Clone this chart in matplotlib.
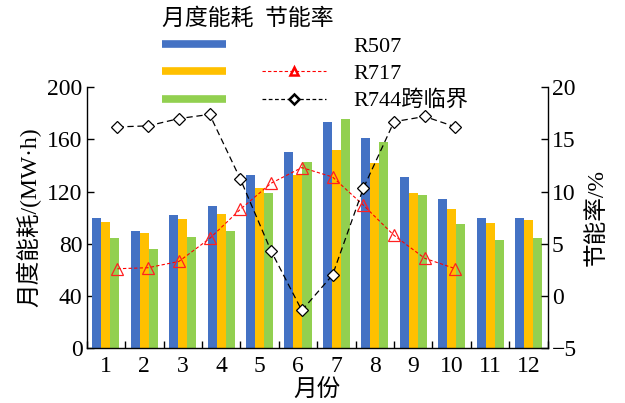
import matplotlib
matplotlib.use("Agg")
import matplotlib.pyplot as plt
from matplotlib.lines import Line2D
from matplotlib.legend_handler import HandlerTuple
import numpy as np

plt.rcParams['font.family'] = ['Liberation Serif', 'Noto Sans CJK SC', 'DejaVu Sans']
plt.rcParams['axes.unicode_minus'] = True

months = list(range(1, 13))
month_labels = [str(m) for m in months]
energy_r507 = [100, 90, 102, 109, 133, 150, 173, 161, 131, 114, 100, 100]
energy_r717 = [97, 88, 99, 103, 123, 133, 152, 142, 119, 107, 96, 98]
energy_r744 = [84, 76, 85, 90, 119, 143, 176, 158, 117, 95, 83, 84]
saving_r717 = [2.6, 2.7, 3.3, 5.5, 8.3, 10.8, 12.3, 11.4, 8.7, 5.8, 3.6, 2.6]
saving_r744 = [16.2, 16.3, 17.0, 17.4, 11.2, 4.3, -1.4, 2.0, 10.3, 16.7, 17.2, 16.2]
series_names = ['R507', 'R717', 'R744跨临界']

c_blue = '#4472C4'
c_yellow = '#FFC000'
c_green = '#92D050'

fig = plt.figure(figsize=(6.25, 4.03), dpi=100)
pos = [0.1387, 0.1365, 0.7376, 0.6469]
ax = fig.add_axes(pos)

x = np.array(months, dtype=float)
w = 0.235
ax.bar(x - w, energy_r507, w, color=c_blue, zorder=2)
ax.bar(x, energy_r717, w, color=c_yellow, zorder=2)
ax.bar(x + w, energy_r744, w, color=c_green, zorder=2)

ax.set_xlim(0.5, 12.5)
ax.set_ylim(0, 200)
ax.set_yticks([0, 40, 80, 120, 160, 200])
ax.set_xticks(months)
ax.set_xticklabels(month_labels)
ax.set_xticks(np.arange(0.5, 13, 1.0), minor=True)
ax.tick_params(axis='x', which='major', length=0, labelsize=17, pad=6)
ax.tick_params(axis='x', which='minor', direction='in', length=5, width=1)
ax.tick_params(axis='y', direction='in', length=5, width=1, labelsize=17, pad=3)
for s in ['top', 'right']:
    ax.spines[s].set_visible(False)
for s in ['left', 'bottom']:
    ax.spines[s].set_linewidth(1.0)
ax.set_ylabel('月度能耗/(MW·h)', fontsize=17, labelpad=4)
ax.set_xlabel('月份', fontsize=17, labelpad=1)

# secondary axes for saving rate
ax2 = fig.add_axes(pos)
ax2.patch.set_visible(False)
ax2.set_xlim(0, 15)
ax2.set_ylim(-5, 20)
ax2.set_yticks([-5, 0, 5, 10, 15, 20])
ax2.xaxis.set_visible(False)
ax2.yaxis.tick_right()
ax2.yaxis.set_label_position('right')
for s in ['top', 'left', 'bottom']:
    ax2.spines[s].set_visible(False)
ax2.spines['right'].set_linewidth(1.0)
ax2.tick_params(axis='y', direction='in', length=5, width=1, labelsize=17, pad=3)
ax2.set_ylabel('节能率/%', fontsize=17, labelpad=6)

l717, = ax2.plot(months, saving_r717, color='#FF0000', lw=0.8, ls=(0, (3, 2)),
                 marker='^', ms=9, mfc='none', mec='#FF2020', mew=0.9)
l744, = ax2.plot(months, saving_r744, color='black', lw=0.9, ls=(0, (5, 3)),
                 marker='D', ms=6, mfc='white', mec='black', mew=0.9)

# legend
h_b = Line2D([], [], color=c_blue, lw=5.5, solid_capstyle='butt')
h_y = Line2D([], [], color=c_yellow, lw=5.5, solid_capstyle='butt')
h_g = Line2D([], [], color=c_green, lw=5.5, solid_capstyle='butt')
h_none = Line2D([], [], ls='none')
h_r = Line2D([], [], color='#FF0000', lw=0.8, ls=(0, (3, 2)), marker='^', ms=6,
             mfc='none', mec='#FF0000', mew=1.8)
h_k = Line2D([], [], color='black', lw=0.9, ls=(0, (3, 2)), marker='D', ms=5,
             mfc='white', mec='black', mew=1.8)
leg = fig.legend([(h_b, h_none), (h_y, h_r), (h_g, h_k)], series_names,
                 handler_map={tuple: HandlerTuple(ndivide=None, pad=1.6)},
                 loc='upper left', bbox_to_anchor=(162 / 625, 1 - 8 / 403),
                 frameon=False, fontsize=16, handlelength=7.4, handletextpad=1.2,
                 labelspacing=0.3, borderpad=0, borderaxespad=0,
                 title='月度能耗  节能率', title_fontsize=16.5, alignment='left',
                 numpoints=1)

fig.savefig('out.png', dpi=100)
